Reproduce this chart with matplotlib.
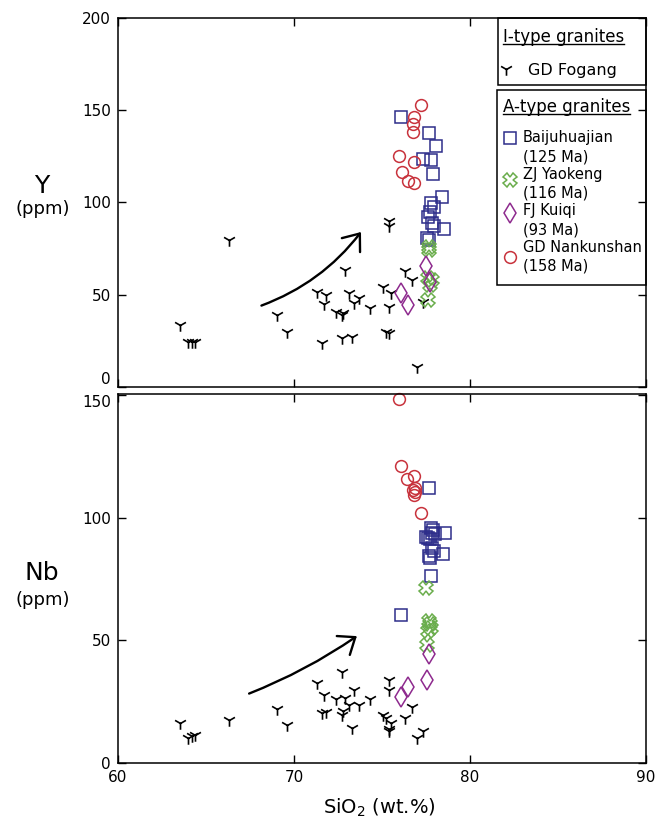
import matplotlib
matplotlib.use("Agg")
import matplotlib.pyplot as plt
from matplotlib.patches import Rectangle, FancyArrowPatch
from matplotlib.path import Path

plt.rcParams['font.family'] = ['DejaVu Sans']
plt.rcParams['mathtext.fontset'] = 'dejavusans'

# ---------------- data ----------------
# I-type: GD Fogang
fog_si_y = [63.5, 64.0, 64.2, 64.4, 66.3, 69.05, 69.6, 71.3, 71.6, 71.7, 71.8, 72.4,
            72.7, 72.8, 72.7, 72.9, 73.1, 73.3, 73.4, 73.7, 74.3, 75.05, 75.4, 75.4,
            75.2, 75.4, 75.4, 75.5, 76.3, 76.7, 77.0, 77.3]
fog_y = [33.6, 24.6, 24.6, 24.6, 79.7, 39.0, 30.0, 51.7, 23.7, 45.0, 50.0, 40.9,
         39.0, 40.0, 26.4, 63.5, 50.8, 27.0, 45.4, 48.1, 42.7, 54.4, 89.7, 87.0,
         30.0, 29.0, 43.6, 50.8, 62.6, 58.0, 11.0, 46.3]
fog_si_nb = [63.5, 64.0, 64.2, 64.4, 66.3, 69.05, 69.6, 71.3, 71.6, 71.7, 71.8, 72.4,
             72.7, 72.8, 72.7, 72.9, 73.1, 73.3, 73.4, 73.7, 74.3, 75.05, 75.4, 75.4,
             75.2, 75.4, 75.4, 75.5, 76.3, 76.7, 77.0, 77.3]
fog_nb = [16.3, 10.2, 11.0, 11.6, 17.7, 22.2, 15.6, 32.7, 20.4, 27.9, 20.8, 25.9,
          37.1, 21.1, 19.5, 26.5, 23.8, 14.3, 29.9, 23.8, 25.9, 19.5, 34.0, 29.9,
          18.4, 14.0, 12.9, 16.5, 18.4, 22.7, 10.2, 12.9]

# Baijuhuajian (125 Ma)
bai_si_y = [76.07, 77.67, 78.08, 77.35, 77.8, 77.9, 78.4, 77.8, 77.96, 77.7, 77.6,
            77.84, 77.96, 78.5, 77.55, 77.67]
bai_y = [146.3, 137.6, 130.4, 123.5, 123.1, 115.6, 102.9, 99.6, 97.8, 95.1, 92.4,
         88.8, 87.0, 85.5, 80.7, 79.7]
bai_si_nb = [77.67, 77.8, 77.5, 77.84, 78.0, 78.57, 77.6, 77.84, 78.45, 77.67, 77.7,
             77.8, 76.07, 77.9, 77.7, 77.96]
bai_nb = [112.0, 95.9, 92.1, 93.9, 93.2, 93.9, 91.8, 87.8, 85.3, 84.4, 83.7,
          76.2, 60.3, 95.2, 91.2, 86.4]

# ZJ Yaokeng (116 Ma)
zj_si_y = [77.67, 77.67, 77.6, 77.84, 77.7, 77.6]
zj_y = [75.8, 74.0, 59.0, 58.0, 55.3, 47.2]
zj_si_nb = [77.5, 77.67, 77.7, 77.8, 77.6, 77.55]
zj_nb = [71.2, 57.8, 56.5, 55.1, 53.7, 48.3]

# FJ Kuiqi (93 Ma)
fj_si_y = [77.5, 77.7, 76.1, 76.5]
fj_y = [65.8, 57.1, 51.2, 44.5]
fj_si_nb = [77.67, 77.55, 76.5, 76.1]
fj_nb = [44.5, 33.7, 30.9, 26.8]

# GD Nankunshan (158 Ma)
gd_si_y = [77.23, 76.8, 76.75, 76.75, 75.97, 76.8, 76.14, 76.5, 76.8]
gd_y = [153.0, 146.3, 142.7, 138.0, 125.0, 121.7, 116.8, 111.4, 110.8]
gd_si_nb = [75.95, 76.1, 76.4, 76.8, 76.75, 76.8, 76.85, 77.23, 76.85]
gd_nb = [148.5, 121.0, 116.0, 117.0, 111.2, 109.5, 110.5, 102.0, 112.0]

# ---------------- styles ----------------
C_BAI = '#2d2d8a'
C_ZJ = '#6aad4c'
C_FJ = '#8e2a8e'
C_GD = '#c8323c'

# "Y"-shaped marker: stem down, two arms up
Y_MARK = Path([(0, 0), (0, -1), (0, 0), (-0.87, 0.5), (0, 0), (0.87, 0.5)],
              [Path.MOVETO, Path.LINETO, Path.MOVETO, Path.LINETO, Path.MOVETO, Path.LINETO])

sty_fog = dict(marker=Y_MARK, color='black', mfc='none', markersize=9, mew=1.2,
               linestyle='none')
sty_bai = dict(marker='s', mfc='none', mec=C_BAI, markersize=8, mew=1.1, linestyle='none')
sty_zj = dict(marker='X', mfc='none', mec=C_ZJ, markersize=10, mew=1.1, linestyle='none')
sty_fj = dict(marker='d', mfc='none', mec=C_FJ, markersize=10, mew=1.1, linestyle='none')
sty_gd = dict(marker='o', mfc='none', mec=C_GD, markersize=8.5, mew=1.1, linestyle='none')

fig = plt.figure(figsize=(6.71, 8.19), dpi=100)
ax1 = fig.add_axes([0.1759, 0.5275, 0.7869, 0.4505])
ax2 = fig.add_axes([0.1759, 0.0684, 0.7869, 0.4505])

for ax in (ax1, ax2):
    ax.set_xlim(60, 90)
    ax.set_xticks([60, 70, 80, 90])
    ax.tick_params(direction='in', top=True, right=True, length=5.5, width=1.0,
                   labelsize=11, pad=5)
    for s in ax.spines.values():
        s.set_linewidth(1.1)

ax1.set_ylim(0, 200)
ax1.set_yticks([0, 50, 100, 150, 200])
ax1.tick_params(labelbottom=False)
ax2.set_ylim(0, 150.5)
ax2.set_yticks([0, 50, 100, 150])

ax1.yaxis.get_major_ticks()[0].label1.set_va('bottom')
ax2.yaxis.get_major_ticks()[-1].label1.set_va('top')

ax1.plot(fog_si_y, fog_y, **sty_fog)
ax1.plot(bai_si_y, bai_y, **sty_bai)
ax1.plot(zj_si_y, zj_y, **sty_zj)
ax1.plot(fj_si_y, fj_y, **sty_fj)
ax1.plot(gd_si_y, gd_y, **sty_gd)

ax2.plot(fog_si_nb, fog_nb, **sty_fog)
ax2.plot(bai_si_nb, bai_nb, **sty_bai)
ax2.plot(zj_si_nb, zj_nb, **sty_zj)
ax2.plot(fj_si_nb, fj_nb, **sty_fj)
ax2.plot(gd_si_nb, gd_nb, clip_on=False, **sty_gd)

# trend arrows
arr_kw = dict(arrowstyle='->,head_length=0.7,head_width=0.55', mutation_scale=15,
              lw=1.7, color='black')
ax1.add_patch(FancyArrowPatch((68.0, 43.6), (73.9, 85.2),
                              connectionstyle='arc3,rad=0.15', **arr_kw))
ax2.add_patch(FancyArrowPatch((67.3, 27.9), (73.7, 52.4),
                              connectionstyle='arc3,rad=0.06', **arr_kw))

# axis labels
fig.text(0.0626, 0.773, 'Y', fontsize=18, ha='center', va='center')
fig.text(0.064, 0.745, '(ppm)', fontsize=13, ha='center', va='center')
fig.text(0.0626, 0.300, 'Nb', fontsize=18, ha='center', va='center')
fig.text(0.064, 0.267, '(ppm)', fontsize=13, ha='center', va='center')
fig.text(0.566, 0.0134, 'SiO$_2$ (wt.%)', fontsize=14, ha='center', va='center')

# ---------------- custom legend boxes ----------------
T = ax1.transAxes
ax1.add_patch(Rectangle((0.72, 0.818), 0.28, 0.182, transform=T, facecolor='white',
                        edgecolor='black', lw=1.1, zorder=1.5, clip_on=False))
ax1.add_patch(Rectangle((0.718, 0.2764), 0.282, 0.5286, transform=T, facecolor='white',
                        edgecolor='black', lw=1.1, zorder=1.5, clip_on=False))

t1 = ax1.text(0.729, 0.935, 'I-type granites', transform=T, fontsize=12,
              ha='left', va='baseline', zorder=3)
t2 = ax1.text(0.729, 0.746, 'A-type granites', transform=T, fontsize=12,
              ha='left', va='baseline', zorder=3)

ax1.plot([0.735], [0.861], transform=T, clip_on=False, **sty_fog)
ax1.text(0.776, 0.859, 'GD Fogang', transform=T, fontsize=11.5, ha='left',
         va='center', zorder=3)

mx = 0.742
tx = 0.767
ax1.plot([mx], [0.675], transform=T, clip_on=False, **sty_bai)
ax1.plot([mx], [0.561], transform=T, clip_on=False, **sty_zj)
ax1.plot([mx], [0.472], transform=T, clip_on=False, **sty_fj)
ax1.plot([mx], [0.352], transform=T, clip_on=False, **sty_gd)
leg_lines = [('Baijuhuajian', 0.675), ('(125 Ma)', 0.623),
             ('ZJ Yaokeng', 0.577), ('(116 Ma)', 0.526),
             ('FJ Kuiqi', 0.477), ('(93 Ma)', 0.425),
             ('GD Nankunshan', 0.379), ('(158 Ma)', 0.328)]
for s, yy in leg_lines:
    ax1.text(tx, yy, s, transform=T, fontsize=10.5, ha='left', va='center', zorder=3)

fig.canvas.draw()
r = fig.canvas.get_renderer()
for t, yl in ((t1, 0.929), (t2, 0.740)):
    bb = t.get_window_extent(r).transformed(T.inverted())
    ax1.plot([bb.x0, bb.x1], [yl, yl], transform=T, color='black', lw=1.0,
             clip_on=False, zorder=3)

fig.savefig('out.png', dpi=100)
